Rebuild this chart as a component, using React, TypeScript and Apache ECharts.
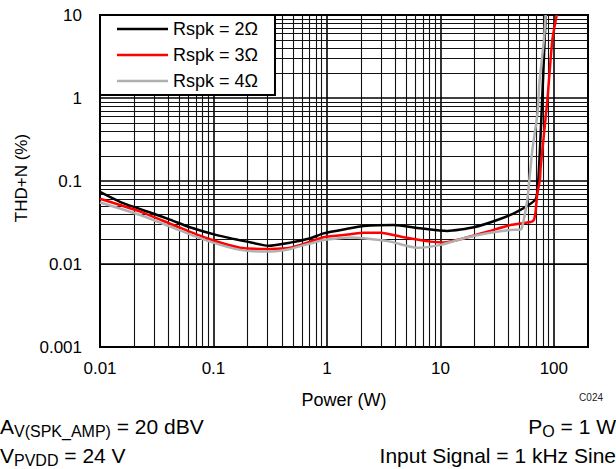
import React, { useEffect, useRef } from 'react';
import * as echarts from 'echarts';

const FONT = '"Liberation Sans", Arial, Helvetica, sans-serif';

const SERIES_NAMES = ['Rspk = 2Ω', 'Rspk = 3Ω', 'Rspk = 4Ω'];
const SERIES_COLORS = ['#000000', '#ff0000', '#b0b0b0'];

// Rspk = 2 Ω
const P_2OHM = [0.01, 0.016, 0.028, 0.042, 0.062, 0.107, 0.197, 0.305, 0.475, 0.714, 0.936, 1.61, 2.11, 3.88, 6.67, 11.5, 19.7, 31.7, 47.6, 69, 73, 78.9, 84.7];
const THD_2OHM = [0.074, 0.054, 0.0415, 0.034, 0.0277, 0.0223, 0.0186, 0.0166, 0.0181, 0.0204, 0.0234, 0.0269, 0.0287, 0.0295, 0.0269, 0.025, 0.0277, 0.0339, 0.0427, 0.06, 0.103, 0.95, 10];

// Rspk = 3 Ω
const P_3OHM = [0.01, 0.0226, 0.0443, 0.0875, 0.172, 0.316, 0.475, 0.714, 0.936, 1.61, 2.11, 2.96, 4.75, 8.18, 10.7, 16.1, 25.9, 41.6, 62.4, 66.7, 69, 71.5, 75.4, 76.6, 87.7, 97, 106];
const THD_3OHM = [0.061, 0.0427, 0.0295, 0.0204, 0.0157, 0.0152, 0.0157, 0.0186, 0.021, 0.0228, 0.0238, 0.0238, 0.021, 0.0186, 0.0182, 0.0204, 0.0245, 0.0295, 0.032, 0.034, 0.0426, 0.071, 0.103, 0.149, 0.946, 5.0, 10];

// Rspk = 4 Ω
const P_4OHM = [0.01, 0.0226, 0.0443, 0.0875, 0.172, 0.296, 0.475, 0.936, 1.61, 2.11, 3.63, 6.24, 10.0, 16.1, 25.9, 41.6, 50.9, 52.6, 58.3, 64.6, 71.5, 75, 81.8, 84.7];
const THD_4OHM = [0.055, 0.0389, 0.0273, 0.0191, 0.0148, 0.0141, 0.0152, 0.0195, 0.0208, 0.0204, 0.0186, 0.0157, 0.017, 0.0204, 0.0234, 0.0257, 0.026, 0.028, 0.059, 0.236, 0.624, 1.65, 5.0, 10];

const X_TICKS = [0.01, 0.1, 1, 10, 100];
const X_TICK_LABELS = ['0.01', '0.1', '1', '10', '100'];
const Y_TICKS = [0.001, 0.01, 0.1, 1, 10];
const Y_TICK_LABELS = ['0.001', '0.01', '0.1', '1', '10'];
const X_MIN = 0.01;
const X_MAX = 200;
const Y_MIN = 0.001;
const Y_MAX = 10;
const X_DECADES = [0.01, 0.1, 1, 10, 100];
const Y_DECADES = [0.001, 0.01, 0.1, 1];
const GRID_MULTIPLIERS = [1, 2, 3, 4, 5, 6, 7, 8, 9];

function labelFor(v: number, ticks: number[], labels: string[]) {
  for (let i = 0; i < ticks.length; i++) {
    if (Math.abs(v - ticks[i]) / ticks[i] < 1e-6) return labels[i];
  }
  return '';
}

function pairs(xs: number[], ys: number[]) {
  return xs.map((x, i) => [x, ys[i]]);
}

export default function App() {
  const ref = useRef<HTMLDivElement>(null);

  useEffect(() => {
    if (!ref.current) return;
    const chart = echarts.init(ref.current, undefined, { renderer: 'svg' });

    const major = { type: 'solid', color: '#000', width: 1.6 };
    const minor = { type: 'solid', color: '#111', width: 1.1 };

    const gridLines: any[] = [];
    X_DECADES.forEach((d) => {
      GRID_MULTIPLIERS.forEach((m) => {
        const v = d * m;
        if (v > X_MIN * 1.0001 && v < X_MAX * 0.9999) {
          gridLines.push({ xAxis: v, lineStyle: m === 1 ? major : minor });
        }
      });
    });
    Y_DECADES.forEach((d) => {
      GRID_MULTIPLIERS.forEach((m) => {
        const v = d * m;
        if (v > Y_MIN * 1.0001 && v < Y_MAX * 0.9999) {
          gridLines.push({ yAxis: v, lineStyle: m === 1 ? major : minor });
        }
      });
    });

    const dataSets = [pairs(P_2OHM, THD_2OHM), pairs(P_3OHM, THD_3OHM), pairs(P_4OHM, THD_4OHM)];

    const lineSeries = dataSets.map((d, i) => ({
      name: SERIES_NAMES[i],
      type: 'line',
      data: d,
      symbol: 'none',
      showSymbol: false,
      smooth: 0.2,
      lineStyle: { color: SERIES_COLORS[i], width: 2.5 },
      itemStyle: { color: SERIES_COLORS[i] },
      z: 3,
    }));

    const option: any = {
      animation: false,
      grid: {
        left: 100,
        right: 28,
        top: 15,
        bottom: 122,
        show: true,
        borderColor: '#000',
        borderWidth: 2,
        backgroundColor: '#fff',
      },
      xAxis: {
        type: 'log',
        logBase: 10,
        min: X_MIN,
        max: X_MAX,
        axisLine: { show: false },
        axisTick: { show: false },
        splitLine: { show: false },
        axisLabel: {
          margin: 13,
          fontSize: 17,
          color: '#000',
          fontFamily: FONT,
          showMaxLabel: true,
          formatter: (v: number) => labelFor(v, X_TICKS, X_TICK_LABELS),
        },
      },
      yAxis: {
        type: 'log',
        logBase: 10,
        min: Y_MIN,
        max: Y_MAX,
        axisLine: { show: false },
        axisTick: { show: false },
        splitLine: { show: false },
        axisLabel: {
          margin: 18,
          fontSize: 17,
          color: '#000',
          fontFamily: FONT,
          formatter: (v: number) => labelFor(v, Y_TICKS, Y_TICK_LABELS),
        },
      },
      legend: {
        data: SERIES_NAMES.map((n, i) => ({ name: n, icon: 'rect', itemStyle: { color: SERIES_COLORS[i] } })),
        orient: 'vertical',
        left: 100,
        top: 15,
        itemWidth: 51,
        itemHeight: 2.5,
        itemGap: 6,
        padding: [4, 17, 4, 17],
        backgroundColor: '#fff',
        borderColor: '#000',
        borderWidth: 2,
        selectedMode: false,
        textStyle: { fontSize: 18, color: '#000', fontFamily: FONT, lineHeight: 20 },
      },
      series: [
        {
          name: 'grid',
          type: 'line',
          data: [],
          silent: true,
          markLine: {
            silent: true,
            z: 1,
            symbol: ['none', 'none'],
            label: { show: false },
            emphasis: { disabled: true },
            animation: false,
            lineStyle: { type: 'solid' },
            data: gridLines,
          },
        },
        ...lineSeries,
      ],
      graphic: [
        {
          type: 'text',
          x: 21,
          y: 178,
          rotation: Math.PI / 2,
          style: { text: 'THD+N (%)', fontSize: 17, fontFamily: FONT, fill: '#000', align: 'center', verticalAlign: 'middle' },
        },
        {
          type: 'text',
          x: 344,
          y: 400,
          style: { text: 'Power (W)', fontSize: 18, fontFamily: FONT, fill: '#000', align: 'center', verticalAlign: 'middle' },
        },
        {
          type: 'text',
          x: 603,
          y: 397,
          style: { text: 'C024', fontSize: 10, fontFamily: FONT, fill: '#222', align: 'right', verticalAlign: 'middle' },
        },
        {
          type: 'text',
          x: 0,
          y: 413,
          style: {
            text: '{m|A}{s|V(SPK_AMP)}{m| = 20 dBV}',
            fontSize: 21,
            fontFamily: FONT,
            fill: '#000',
            align: 'left',
            verticalAlign: 'top',
            rich: {
              m: { fontSize: 21, fontFamily: FONT, lineHeight: 26, fill: '#000' },
              s: { fontSize: 16, fontFamily: FONT, lineHeight: 13, verticalAlign: 'bottom', fill: '#000' },
            },
          },
        },
        {
          type: 'text',
          x: 0,
          y: 442,
          style: {
            text: '{m|V}{s|PVDD}{m| = 24 V}',
            fontSize: 21,
            fontFamily: FONT,
            fill: '#000',
            align: 'left',
            verticalAlign: 'top',
            rich: {
              m: { fontSize: 21, fontFamily: FONT, lineHeight: 26, fill: '#000' },
              s: { fontSize: 16, fontFamily: FONT, lineHeight: 13, verticalAlign: 'bottom', fill: '#000' },
            },
          },
        },
        {
          type: 'text',
          x: 616,
          y: 413,
          style: {
            text: '{m|P}{s|O}{m| = 1 W}',
            fontSize: 21,
            fontFamily: FONT,
            fill: '#000',
            align: 'right',
            verticalAlign: 'top',
            rich: {
              m: { fontSize: 21, fontFamily: FONT, lineHeight: 26, fill: '#000' },
              s: { fontSize: 16, fontFamily: FONT, lineHeight: 13, verticalAlign: 'bottom', fill: '#000' },
            },
          },
        },
        {
          type: 'text',
          x: 616,
          y: 442,
          style: {
            text: 'Input Signal = 1 kHz Sine',
            fontSize: 21,
            fontFamily: FONT,
            fill: '#000',
            align: 'right',
            verticalAlign: 'top',
            lineHeight: 26,
          },
        },
      ],
    };

    chart.setOption(option);
    return () => chart.dispose();
  }, []);

  return <div ref={ref} style={{ position: 'absolute', left: 0, top: 0, width: 616, height: 469 }} />;
}
